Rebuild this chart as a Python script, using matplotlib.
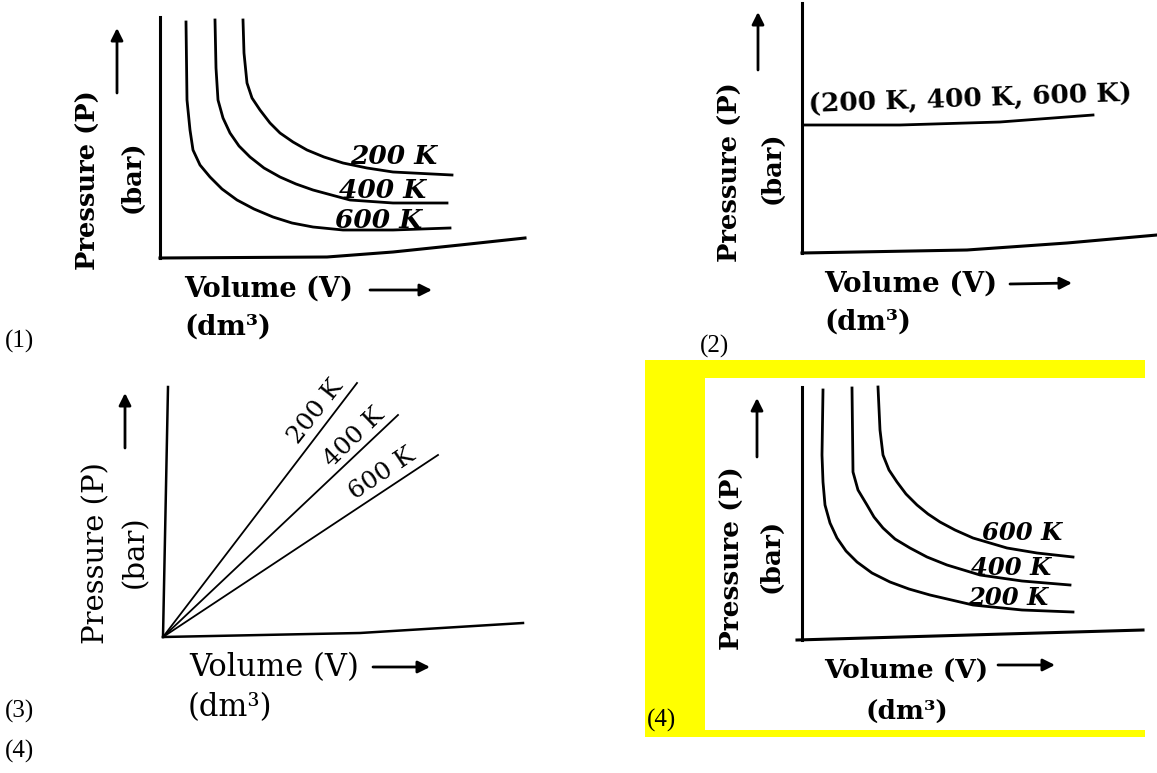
import matplotlib.pyplot as plt
from matplotlib.patches import Rectangle

W, H = 1157, 773

# ---- panel 1 : isotherms (200 K outermost) ----
p1_yaxis_v = [0, 0]
p1_yaxis_p = [0, 24.1]
p1_xaxis_v = [0, 16.7, 23.3, 30.0, 36.5]
p1_xaxis_p = [0, 0.1, 0.6, 1.3, 2.0]
p1_600_v = [2.6, 2.7, 3.0, 3.3, 4.0, 5.0, 6.2, 7.7, 9.4, 11.3, 13.2, 15.3, 18.3, 23.3, 29.0]
p1_600_p = [23.6, 15.8, 12.8, 10.8, 9.3, 8.1, 6.9, 5.8, 4.9, 4.1, 3.5, 3.1, 2.8, 2.8, 3.0]
p1_400_v = [5.5, 5.6, 5.8, 6.3, 7.0, 7.9, 9.0, 10.4, 12.0, 13.6, 15.3, 19.0, 23.3, 28.7]
p1_400_p = [23.8, 19.0, 15.8, 14.0, 12.5, 11.2, 10.1, 9.0, 8.1, 7.4, 6.8, 5.8, 5.5, 5.5]
p1_200_v = [8.3, 8.4, 8.7, 9.2, 10.0, 11.0, 12.0, 13.3, 14.7, 16.4, 18.3, 20.7, 23.3, 29.2]
p1_200_p = [23.8, 20.5, 17.5, 16.0, 14.8, 13.5, 12.5, 11.6, 10.8, 10.1, 9.5, 9.0, 8.6, 8.3]
p1_labels = ["200 K", "400 K", "600 K"]

# ---- panel 2 : one line for all temperatures ----
p2_yaxis_v = [0, 0]
p2_yaxis_p = [0, 25.0]
p2_xaxis_v = [0, 16.5, 26.5, 35.5]
p2_xaxis_p = [0, 0.3, 1.0, 1.8]
p2_line_v = [0.1, 9.8, 19.8, 29.1]
p2_line_p = [12.8, 12.8, 13.1, 13.8]
p2_label = "(200 K, 400 K, 600 K)"

# ---- panel 3 : straight lines through origin ----
p3_yaxis_v = [0, 0.5]
p3_yaxis_p = [0, 25.0]
p3_xaxis_v = [0, 19.7, 36.0]
p3_xaxis_p = [0, 0.4, 1.4]
p3_200_v = [0, 19.4]
p3_200_p = [0, 25.4]
p3_400_v = [0, 23.5]
p3_400_p = [0, 22.2]
p3_600_v = [0, 27.5]
p3_600_p = [0, 18.2]
p3_labels = ["200 K", "400 K", "600 K"]

# ---- panel 4 : isotherms (600 K outermost) ----
p4_yaxis_v = [0, 0]
p4_yaxis_p = [0, 25.3]
p4_xaxis_v = [-0.5, 34.1]
p4_xaxis_p = [0, 1.0]
p4_200_v = [2.1, 2.0, 2.1, 2.3, 2.8, 3.5, 4.4, 5.5, 7.0, 8.8, 10.7, 12.8, 17.1, 22.0, 27.1]
p4_200_p = [25.0, 18.5, 15.8, 13.5, 11.7, 10.2, 8.9, 7.8, 6.7, 5.8, 5.1, 4.5, 3.5, 3.0, 2.8]
p4_400_v = [5.0, 5.1, 5.6, 6.5, 7.2, 8.1, 9.3, 10.8, 12.5, 14.5, 17.8, 22.0, 26.8]
p4_400_p = [25.2, 16.8, 15.0, 13.5, 12.3, 11.2, 10.1, 9.2, 8.3, 7.5, 6.5, 5.9, 5.5]
p4_600_v = [7.6, 7.8, 8.1, 8.7, 9.5, 10.4, 11.5, 12.6, 13.8, 15.3, 17.1, 20.5, 23.5, 27.1]
p4_600_p = [25.3, 21.0, 18.5, 17.0, 15.8, 14.6, 13.5, 12.6, 11.8, 11.0, 10.2, 9.2, 8.7, 8.3]
p4_labels = ["600 K", "400 K", "200 K"]

option_labels = ["(1)", "(2)", "(3)", "(4)", "(4)"]

fig = plt.figure(figsize=(W / 100, H / 100), dpi=100)

# overlay in pixel units for the text, arrows and the yellow frame
ov = fig.add_axes([0, 0, 1, 1], zorder=0)
ov.set_xlim(0, W)
ov.set_ylim(H, 0)
ov.axis("off")


def panel_ax(x0, y0, w, h):
    ax = fig.add_axes([x0 / W, (H - y0) / H, w / W, h / H], zorder=1)
    ax.set_xlim(0, w / 10)
    ax.set_ylim(0, h / 10)
    ax.axis("off")
    ax.patch.set_alpha(0)
    return ax


def arrow(x1, y1, x2, y2, lw=2.0):
    ov.annotate("", xy=(x2, y2), xytext=(x1, y1),
                arrowprops=dict(arrowstyle="-|>", lw=lw, color="black",
                                mutation_scale=18, shrinkA=0, shrinkB=0))


serif = "DejaVu Serif"
times = "Liberation Serif"

# yellow highlight around answer (4)
ov.add_patch(Rectangle((645, 360), 500, 18, color="#ffff00", lw=0))
ov.add_patch(Rectangle((645, 360), 60, 377, color="#ffff00", lw=0))
ov.add_patch(Rectangle((645, 730), 500, 7, color="#ffff00", lw=0))

# ---------- panel 1 ----------
a1 = panel_ax(160, 258, 380, 250)
a1.plot(p1_yaxis_v, p1_yaxis_p, color="black", lw=2.2, clip_on=False)
a1.plot(p1_xaxis_v, p1_xaxis_p, color="black", lw=2.2, clip_on=False)
for v, p in [(p1_600_v, p1_600_p), (p1_400_v, p1_400_p), (p1_200_v, p1_200_p)]:
    a1.plot(v, p, color="black", lw=2.0, clip_on=False)
for lab, (x, y) in zip(p1_labels, [(394, 156), (383, 191), (379, 221)]):
    ov.text(x, y, lab, family=serif, style="italic", weight="bold", fontsize=19,
            ha="center", va="center")
ov.text(88, 180, "Pressure (P)", family=serif, weight="bold", fontsize=18.5,
        rotation=90, ha="center", va="center")
ov.text(132, 177, "(bar)", family=serif, weight="bold", fontsize=18.5,
        rotation=90, ha="center", va="center")
arrow(117, 93, 117, 28)
ov.text(184, 289, "Volume (V)", family=serif, weight="bold", fontsize=19.5,
        ha="left", va="center")
arrow(370, 290, 432, 290)
ov.text(184, 327, "(dm³)", family=serif, weight="bold", fontsize=20,
        ha="left", va="center")

# ---------- panel 2 ----------
a2 = panel_ax(802, 253, 360, 252)
a2.plot(p2_yaxis_v, p2_yaxis_p, color="black", lw=2.2, clip_on=False)
a2.plot(p2_xaxis_v, p2_xaxis_p, color="black", lw=2.2, clip_on=False)
a2.plot(p2_line_v, p2_line_p, color="black", lw=2.0, clip_on=False)
ov.text(970, 99, p2_label, family=serif, weight="bold", fontsize=19,
        rotation=2, ha="center", va="center")
ov.text(730, 172, "Pressure (P)", family=serif, weight="bold", fontsize=18.5,
        rotation=90, ha="center", va="center")
ov.text(772, 168, "(bar)", family=serif, weight="bold", fontsize=18.5,
        rotation=90, ha="center", va="center")
arrow(758, 70, 758, 12)
ov.text(824, 284, "Volume (V)", family=serif, weight="bold", fontsize=20,
        ha="left", va="center")
arrow(1010, 284, 1072, 283)
ov.text(824, 322, "(dm³)", family=serif, weight="bold", fontsize=20,
        ha="left", va="center")

# ---------- panel 3 ----------
a3 = panel_ax(163, 637, 370, 260)
a3.plot(p3_yaxis_v, p3_yaxis_p, color="black", lw=1.8, clip_on=False)
a3.plot(p3_xaxis_v, p3_xaxis_p, color="black", lw=1.8, clip_on=False)
for v, p in [(p3_200_v, p3_200_p), (p3_400_v, p3_400_p), (p3_600_v, p3_600_p)]:
    a3.plot(v, p, color="black", lw=1.3, clip_on=False)
for lab, (x, y), r in zip(p3_labels, [(316, 412), (354, 437), (382, 474)], [52, 44, 34]):
    ov.text(x, y, lab, family=serif, fontsize=18, rotation=r,
            rotation_mode="anchor", ha="center", va="center")
ov.text(96, 553, "Pressure (P)", family=serif, fontsize=21,
        rotation=90, ha="center", va="center")
ov.text(135, 552, "(bar)", family=serif, fontsize=21,
        rotation=90, ha="center", va="center")
arrow(125, 448, 125, 393)
ov.text(189, 668, "Volume (V)", family=serif, fontsize=22,
        ha="left", va="center")
arrow(373, 667, 430, 667)
ov.text(188, 708, "(dm³)", family=serif, fontsize=22,
        ha="left", va="center")

# ---------- panel 4 ----------
a4 = panel_ax(802, 640, 350, 260)
a4.plot(p4_yaxis_v, p4_yaxis_p, color="black", lw=2.2, clip_on=False)
a4.plot(p4_xaxis_v, p4_xaxis_p, color="black", lw=2.2, clip_on=False)
for v, p in [(p4_200_v, p4_200_p), (p4_400_v, p4_400_p), (p4_600_v, p4_600_p)]:
    a4.plot(v, p, color="black", lw=2.0, clip_on=False)
for lab, (x, y) in zip(p4_labels, [(1022, 533), (1011, 568), (1008, 598)]):
    ov.text(x, y, lab, family=serif, style="italic", weight="bold", fontsize=17.5,
            ha="center", va="center")
ov.text(732, 558, "Pressure (P)", family=serif, weight="bold", fontsize=19,
        rotation=90, ha="center", va="center")
ov.text(771, 556, "(bar)", family=serif, weight="bold", fontsize=19,
        rotation=90, ha="center", va="center")
arrow(757, 457, 757, 398)
ov.text(824, 670, "Volume (V)", family=serif, weight="bold", fontsize=19,
        ha="left", va="center")
arrow(998, 665, 1055, 665)
ov.text(866, 711, "(dm³)", family=serif, weight="bold", fontsize=19,
        ha="left", va="center")

# option numbers
for lab, (x, y) in zip(option_labels, [(5, 341), (700, 346), (5, 711), (647, 720), (5, 751)]):
    ov.text(x, y, lab, family=times, fontsize=18, ha="left", va="center")

fig.savefig("out.png", dpi=100)
